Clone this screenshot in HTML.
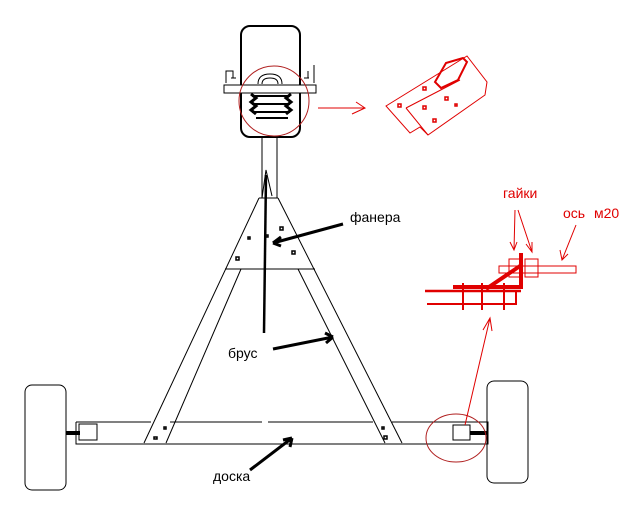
<!DOCTYPE html>
<html><head><meta charset="utf-8"><style>
html,body{margin:0;padding:0;background:#fff;width:640px;height:512px;overflow:hidden}
svg{display:block}
text{font-family:"Liberation Sans","DejaVu Sans",sans-serif;font-size:14px}
</style></head><body>
<svg width="640" height="512" viewBox="0 0 640 512" xmlns="http://www.w3.org/2000/svg">
<g fill="none" stroke="#000" stroke-width="1">
<!-- front wheel -->
<rect x="241" y="26" width="59" height="111" rx="9" stroke-width="2"/>
<rect x="224" y="85" width="92" height="8" fill="#fff"/>
<path d="M226 83 V71 H233 V78 M231 78 H236 M314 83 V65 M308 71 V78 M304 78 H309"/>
<path d="M258 84 Q258 74 270 74 Q282 74 282 84 M262 84 Q262 78 270 78 Q278 78 278 84"/>
<path d="M252 96 H290 M252 104 H290 M252 112 H290 M256 118 H288" stroke-width="2"/>
<path d="M251 94 l5 4 -5 4 5 4 -5 4 5 4 M291 94 l-5 4 5 4 -5 4 5 4 -5 4" stroke-width="3"/>
<!-- drawbar -->
<path d="M262 137 V198 M277 137 V198 M259 198 H278"/>
<path d="M262 198 L266 170 L272 196"/>
<path d="M266 175 L264 333" stroke-width="2.5"/>
<!-- triangle -->
<path d="M259 198 L144 443 M241 269 L166 443 M278 198 L402 443 M298 269 L385 443"/>
<path d="M225 269 H315"/>
<!-- beam -->
<path d="M76 422 H151 M170 422 H262 M268 422 H373 M392 422 H488 V444 H76 V422"/>
<rect x="79" y="424" width="18" height="16"/>
<rect x="453" y="425" width="17" height="15"/>
<rect x="25" y="385" width="41" height="105" rx="7"/>
<rect x="487" y="381" width="41" height="102" rx="7"/>
<path d="M66 433 H80 M470 433 H487" stroke-width="4"/>
<!-- arrows -->
<path d="M343 224 L273 243 M273 243 l8 -6 M273 243 l8 3" stroke-width="3"/>
<path d="M273 349 L333 337 M333 337 l-8 -4 M333 337 l-7 6" stroke-width="3"/>
<path d="M250 470 L292 438 M292 438 l-9 2 M292 438 l-2 9" stroke-width="3"/>
<g stroke-width="1.5">
<rect x="248" y="237" width="2" height="2"/><rect x="280" y="227" width="3" height="3"/><rect x="236" y="257" width="3" height="3"/><rect x="292" y="251" width="3" height="3"/><rect x="266" y="235" width="2" height="2"/>
<rect x="154" y="437" width="3" height="2"/><rect x="384" y="436" width="3" height="3"/><rect x="164" y="427" width="2" height="2"/><rect x="382" y="427" width="2" height="2"/>
</g>
</g>
<!-- red parts -->
<g fill="none" stroke="#e00000" stroke-width="1">
<circle cx="274" cy="101" r="35" stroke="#b02020"/>
<path d="M318 108 H365 M356 102 L365 108 L352 114"/>
<path d="M386 106 L467 56 L487 82 L485 95 L428 135 L420 127 L410 133 Z"/>
<path d="M406 108 L460 80 M406 108 L428 135"/>
<path d="M435 82 L446 63 L463 58 L467 62 L458 80 L441 88 Z" stroke-width="2"/>
<g stroke-width="1.5"><rect x="398" y="104" width="3" height="3"/><rect x="423" y="106" width="3" height="3"/><rect x="423" y="87" width="3" height="3"/><rect x="445" y="97" width="3" height="3"/><rect x="433" y="119" width="3" height="3"/><rect x="455" y="104" width="2" height="2"/></g>
<ellipse cx="456" cy="438" rx="30" ry="24" stroke="#b02020"/>
<path d="M465 425 L490 318 M483 330 L490 318 L492 331"/>
<path d="M425 291 H521" stroke-width="2.5"/>
<path d="M427 304 H516 V291" stroke-width="2"/>
<path d="M463 283 V310 M482 283 V310 M504 283 V310" stroke-width="2"/>
<rect x="499" y="266" width="77" height="7"/>
<rect x="509" y="259" width="11" height="18"/>
<rect x="525" y="259" width="13" height="18"/>
<path d="M453 287 H521 V253 M486 289 L520 266" stroke-width="4"/>
<path d="M515 210 L514 250 M518 210 L532 252 M510 242 L514 250 L517 242 M526 244 L532 252 L532 242 M576 225 L562 260 M560 250 L562 260 L568 254"/>
</g>
<text x="350" y="222" fill="#000">фанера</text>
<text x="228" y="358" fill="#000">брус</text>
<text x="213" y="481" fill="#000">доска</text>
<text x="503" y="198" fill="#e00000">гайки</text>
<text x="563" y="218" fill="#e00000">ось</text>
<text x="594" y="218" fill="#e00000">м20</text>
</svg>
</body></html>
